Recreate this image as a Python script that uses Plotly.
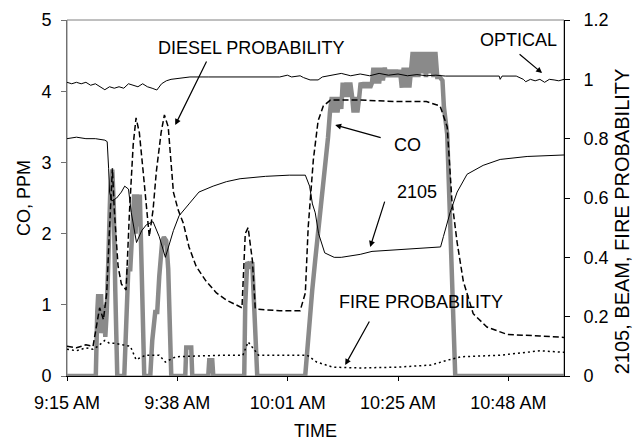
import plotly.graph_objects as go

# time in minutes after 9:15 AM
tick_minutes = [0, 23.333, 46.667, 70, 93.333]
tick_labels = ["9:15 AM", "9:38 AM", "10:01 AM", "10:25 AM", "10:48 AM"]

# CO, PPM (left axis)
co_t = [0, 6.09, 6.4, 6.6, 6.9, 7.2, 7.5, 7.8, 8.1, 8.4, 8.73, 9.15, 9.58, 9.89, 10.21, 10.63,
        12.11, 12.53, 12.96, 13.38, 13.8, 14.2, 14.5, 14.8, 15.1, 15.4, 15.6, 15.92, 16.34,
        17.61, 18.03, 18.66, 19.08, 19.51, 20.14, 20.5, 20.99, 21.41, 21.83, 22.05,
        25.01, 25.22, 26.27, 26.49, 29.87, 30.08, 30.72, 30.93,
        37.48, 37.69, 38.11, 38.6, 39.17, 39.59, 40.23,
        50.37, 51.0, 51.85, 52.49, 53.12, 53.54, 54.18, 54.6, 55.2,
        55.6, 56.0, 56.4, 56.8, 57.2, 57.6, 58.0, 58.3, 58.7, 59.1, 59.5, 59.9, 60.3, 60.6,
        61.0, 61.4, 61.8, 62.1, 62.5, 62.9, 63.3, 63.7, 64.1, 64.5, 64.8, 65.2, 65.6, 66.0,
        66.4, 66.8, 67.2, 67.6, 68.0, 68.4, 68.8, 69.2, 69.6, 70.0, 70.4, 70.8, 71.2, 71.6,
        72.0, 72.4, 72.8, 73.1, 73.5, 73.9, 74.3, 74.7, 75.1, 75.5, 75.9, 76.3, 76.7, 77.1,
        77.5, 77.9, 78.3, 78.8, 79.4, 79.7, 80.4, 81.0, 81.7, 82.1, 105.1]
co_v = [0, 0, 0.9, 1.15, 0.6, 1.15, 0.6, 1.0, 0.55, 0.9, 1.6, 2.6, 2.9, 2.4, 1.2, 0,
        0, 1.0, 1.5, 1.5, 2.2, 2.55, 2.0, 2.55, 2.1, 2.55, 2.0, 1.0, 0,
        0, 0.5, 0.9, 0.9, 1.4, 1.9, 1.95, 1.9, 1.5, 0.6, 0,
        0, 0.4, 0.4, 0, 0, 0.22, 0.22, 0,
        0, 1.0, 1.6, 1.55, 1.6, 1.0, 0,
        0, 0.6, 1.2, 1.63, 2.0, 2.35, 2.7, 3.0, 3.35,
        3.7, 3.92, 3.7, 3.92, 3.7, 3.92, 3.75, 4.12, 3.92, 4.12, 3.92, 4.12, 3.92, 3.7,
        3.92, 3.7, 3.92, 4.12, 4.05, 4.12, 4.05, 4.12, 4.05, 4.12, 4.33, 4.11, 4.33, 4.11,
        4.33, 4.15, 4.33, 4.2, 4.3, 4.2, 4.3, 4.2, 4.3, 4.2, 4.3, 4.05, 4.33, 4.05,
        4.33, 4.05, 4.33, 4.55, 4.2, 4.55, 4.2, 4.55, 4.25, 4.55, 4.2, 4.55, 4.25, 4.55,
        4.2, 4.55, 4.2, 4.2, 4.15, 3.78, 3.4, 2.0, 0.8, 0, 0]

# OPTICAL (right axis)
opt_t = [0, 1, 2, 3, 4, 5, 6, 7, 8, 9, 10, 11, 12, 13, 14, 15, 16, 17, 18, 19, 20, 21, 22,
         24, 26, 30, 35, 40, 45, 46.6, 47.5, 49.3, 50, 51.4, 52.2, 53.1, 54, 56, 58, 60,
         62, 64, 66, 68, 70, 72, 74, 76, 78, 80, 84, 88, 91.4, 91.6, 92, 95, 96.5, 97, 98,
         99, 100, 101, 102, 103, 104, 105.1]
opt_v = [0.99, 0.985, 0.99, 0.985, 0.99, 0.98, 0.985, 0.975, 0.965, 0.975, 0.97, 0.975,
         0.97, 0.985, 0.98, 0.975, 0.985, 0.975, 0.97, 0.964, 0.985, 0.995, 1.0,
         1.005, 1.008, 1.008, 1.008, 1.008, 1.008, 1.014, 1.008, 1.012, 1.006, 0.998, 0.998,
         0.998, 1.008, 1.015, 1.02, 1.012, 1.018, 1.012, 1.02, 1.014, 1.018, 1.012, 1.016,
         1.012, 1.014, 1.011, 1.011, 1.011, 1.011, 1.0, 1.011, 1.011, 1.0, 0.992, 1.0,
         0.995, 1.0, 0.99, 1.0, 0.998, 0.995, 1.0]

# 2105 (right axis)
s2105_t = [0, 2, 4, 6, 8, 8.5, 8.8, 9.0, 9.5, 10.5, 11.5, 12.2, 13.0, 13.6, 14.7, 15.8,
           16.8, 18.2, 19.5, 20.8, 22.5, 23.7, 25.8, 27.9, 30.9, 33.7, 36.6, 42, 47, 50.4,
           51.3, 51.9, 52.5, 53.2, 54.5, 56.5, 58, 62, 64.5, 70, 75, 79, 79.6, 81.0, 82.5,
           84.6, 88.0, 91.6, 97.3, 105.1]
s2105_v = [0.80, 0.805, 0.80, 0.80, 0.795, 0.79, 0.70, 0.62, 0.59, 0.60, 0.62, 0.64, 0.63,
           0.55, 0.45, 0.49, 0.51, 0.52, 0.47, 0.40, 0.49, 0.54, 0.58, 0.62, 0.64, 0.655,
           0.665, 0.673, 0.677, 0.677, 0.64, 0.58, 0.55, 0.48, 0.415, 0.40, 0.40, 0.41,
           0.42, 0.425, 0.432, 0.435, 0.47, 0.55, 0.62, 0.68, 0.71, 0.73, 0.74, 0.745]

# DIESEL PROBABILITY (right axis)
diesel_t = [0, 2, 4, 5.5, 6.2, 6.9, 7.7, 8.4, 9.0, 9.6, 10.0, 10.8, 11.5, 12.5, 13.2, 14.0,
            14.6, 15.3, 16.1, 16.8, 17.4, 18.2, 18.9, 19.9, 20.6, 21.4, 22.5, 23.5, 24.6,
            25.8, 27.3, 29.4, 31.6, 33.7, 35.8, 37.0, 37.7, 38.3, 39.2, 39.8, 40.4, 45,
            49.3, 50.4, 51.0, 52.1, 53.1, 54.2, 55.7, 62, 70, 76, 78.9, 80.4, 81.4, 82.5,
            83.8, 85.9, 88.8, 93.1, 100, 105.1]
diesel_v = [0.10, 0.095, 0.105, 0.10, 0.165, 0.23, 0.19, 0.28, 0.50, 0.70, 0.56, 0.37,
            0.31, 0.29, 0.55, 0.78, 0.87, 0.82, 0.69, 0.56, 0.47, 0.56, 0.69, 0.82, 0.88,
            0.84, 0.62, 0.56, 0.515, 0.435, 0.37, 0.32, 0.28, 0.256, 0.24, 0.23, 0.48,
            0.50, 0.39, 0.23, 0.225, 0.22, 0.22, 0.28, 0.50, 0.73, 0.86, 0.91, 0.93, 0.93,
            0.925, 0.925, 0.91, 0.84, 0.59, 0.45, 0.32, 0.21, 0.165, 0.14, 0.135, 0.13]

# FIRE PROBABILITY (right axis)
fire_t = [0, 2, 4, 5.5, 6.5, 8, 9, 10.2, 13.4, 14.6, 16.6, 19.5, 20.8, 23, 33, 37.2, 38.3,
          39.5, 40.5, 50.8, 52.8, 56.2, 62, 70, 77, 80.6, 83.4, 91.6, 97.3, 100, 105.1]
fire_v = [0.09, 0.085, 0.095, 0.09, 0.10, 0.12, 0.11, 0.11, 0.10, 0.055, 0.07, 0.07,
          0.047, 0.065, 0.07, 0.07, 0.115, 0.09, 0.07, 0.07, 0.047, 0.03, 0.027, 0.03,
          0.037, 0.054, 0.065, 0.07, 0.08, 0.085, 0.08]

FONT = "Liberation Sans, Arial, sans-serif"
FS = 18

fig = go.Figure()
fig.add_trace(go.Scatter(x=co_t, y=co_v, mode="lines", name="CO",
                         line=dict(color="#8a8a8a", width=4.5)))
fig.add_trace(go.Scatter(x=opt_t, y=opt_v, mode="lines", name="OPTICAL", yaxis="y2",
                         line=dict(color="black", width=1)))
fig.add_trace(go.Scatter(x=s2105_t, y=s2105_v, mode="lines", name="2105", yaxis="y2",
                         line=dict(color="black", width=1)))
fig.add_trace(go.Scatter(x=diesel_t, y=diesel_v, mode="lines", name="DIESEL PROBABILITY",
                         yaxis="y2", line=dict(color="black", width=1.5, dash="6px,3px")))
fig.add_trace(go.Scatter(x=fire_t, y=fire_v, mode="lines", name="FIRE PROBABILITY",
                         yaxis="y2", line=dict(color="black", width=1.5, dash="2px,3px")))

# labels with arrows: (text, text_x, text_y, tail_x, tail_y, head_x, head_y) on y2 scale
labels = [
    ("DIESEL PROBABILITY", 39.0, 1.107, 29.66, 1.065, 22.89, 0.846),
    ("OPTICAL", 95.4, 1.132, 95.39, 1.089, 100.47, 1.021),
    ("CO", 71.95, 0.779, 66.65, 0.802, 56.71, 0.846),
    ("2105", 74.0, 0.62, 67.28, 0.593, 64.11, 0.435),
    ("FIRE PROBABILITY", 74.9, 0.249, 64.11, 0.189, 58.83, 0.037),
]
for txt, tx, ty, ax, ay, hx, hy in labels:
    fig.add_annotation(x=tx, y=ty, xref="x", yref="y2", text=txt, showarrow=False,
                       font=dict(family=FONT, size=FS, color="black"))
    fig.add_annotation(x=hx, y=hy, xref="x", yref="y2", ax=ax, ay=ay, axref="x",
                       ayref="y2", text="", showarrow=True, arrowhead=2, arrowsize=1,
                       arrowwidth=1.2, arrowcolor="black")

# right axis title (placed as in the original, slightly below centre)
fig.add_annotation(text="2105, BEAM, FIRE PROBABILITY", xref="paper", yref="paper",
                   x=1.117, y=0.435, xanchor="center", yanchor="middle", textangle=-90,
                   showarrow=False, font=dict(family=FONT, size=20, color="black"))

fig.add_shape(type="rect", xref="x domain", yref="y domain", x0=0, x1=1, y0=0, y1=1,
              line=dict(color="#808080", width=1), layer="below")

fig.update_layout(
    width=633, height=441,
    margin=dict(l=67, r=69, t=20, b=65, autoexpand=False),
    paper_bgcolor="white", plot_bgcolor="white",
    showlegend=False,
    font=dict(family=FONT, size=FS, color="black"),
    xaxis=dict(range=[0, 105.1], tickvals=tick_minutes, ticktext=tick_labels,
               showgrid=False, zeroline=False, showline=True, linecolor="black",
               ticks="outside", ticklen=4, tickcolor="black", ticklabelstandoff=6,
               automargin=False,
               title=dict(text="TIME", standoff=14, font=dict(size=FS))),
    yaxis=dict(range=[0, 5], dtick=1, showgrid=False, zeroline=False, showline=True,
               linecolor="#707070", ticks="outside", ticklen=5, tickcolor="#707070",
               ticklabelstandoff=6, automargin=False,
               title=dict(text="CO, PPM", standoff=6, font=dict(size=FS))),
    yaxis2=dict(range=[0, 1.2], tickvals=[0, 0.2, 0.4, 0.6, 0.8, 1.0, 1.2],
                ticktext=["0", "0.2", "0.4", "0.6", "0.8", "1", "1.2"],
                overlaying="y", side="right", showgrid=False, zeroline=False,
                showline=True, linecolor="black", ticks="outside", ticklen=5,
                tickcolor="black", ticklabelstandoff=10, automargin=False),
)

fig.write_html("out.html")
